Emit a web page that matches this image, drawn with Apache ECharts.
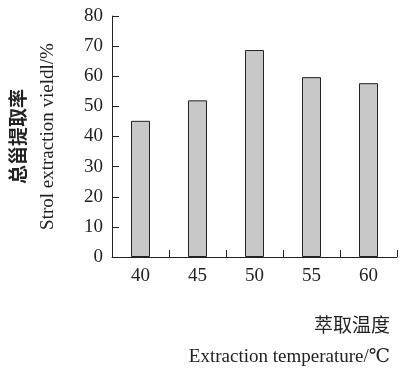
<!DOCTYPE html>
<html><head><meta charset="utf-8">
<script src="https://cdn.jsdelivr.net/npm/echarts@6/dist/echarts.min.js"></script>
<style>html,body{margin:0;padding:0;background:#fff}#c{width:403px;height:368px}</style>
</head><body><div id="c"></div>
<script>
const categories = ['40', '45', '50', '55', '60'];
const yieldValues = [45.2, 52.0, 68.7, 59.7, 57.7];
const yTitleCn = '总甾提取率';
const yTitleEn = 'Strol extraction vieldl/%';
const xTitleCn = '萃取温度';
const xTitleEn = 'Extraction temperature/℃';

const serif = '"Liberation Serif", "DejaVu Serif", serif';
const cjk = '"Noto Sans CJK SC", sans-serif';
const chart = echarts.init(document.getElementById('c'), null, {renderer: 'canvas'});
chart.setOption({
  animation: false,
  grid: {left: 112, right: 6, top: 16, bottom: 111, containLabel: false, outerBoundsMode: 'none'},
  xAxis: {
    type: 'category',
    data: categories,
    boundaryGap: true,
    axisLine: {lineStyle: {color: '#222', width: 1}},
    axisTick: {show: true, inside: true, length: 7, alignWithLabel: false, interval: 0, lineStyle: {color: '#222', width: 1}},
    axisLabel: {fontFamily: serif, fontSize: 19, color: '#222', margin: 10},
    name: '{cn|' + xTitleCn + '}\n{en|' + xTitleEn + '}',
    nameLocation: 'end',
    nameGap: -7,
    nameTextStyle: {
      align: 'right', verticalAlign: 'top', padding: [52, 0, 0, 0],
      rich: {
        cn: {fontFamily: cjk, fontSize: 19, color: '#222', lineHeight: 32, align: 'right'},
        en: {fontFamily: serif, fontSize: 19, color: '#222', lineHeight: 32, align: 'right'}
      }
    }
  },
  yAxis: {
    type: 'value',
    min: 0, max: 80, interval: 10,
    axisLine: {show: true, lineStyle: {color: '#222', width: 1}},
    axisTick: {show: true, inside: true, length: 7, lineStyle: {color: '#222'}},
    splitLine: {show: false},
    axisLabel: {fontFamily: serif, fontSize: 19, color: '#222', margin: 9},
    name: '{cn|' + yTitleCn + '}\n{en|' + yTitleEn + '}',
    nameLocation: 'middle',
    nameRotate: 90,
    nameGap: 49,
    nameTextStyle: {
      rich: {
        cn: {fontFamily: cjk, fontSize: 19, fontWeight: 'bold', color: '#222', lineHeight: 30},
        en: {fontFamily: serif, fontSize: 19, color: '#222', lineHeight: 30}
      }
    }
  },
  series: [{
    type: 'bar',
    data: yieldValues,
    barWidth: 19,
    itemStyle: {color: '#c8c8c8', borderColor: '#222', borderWidth: 1}
  }]
});
</script></body></html>
